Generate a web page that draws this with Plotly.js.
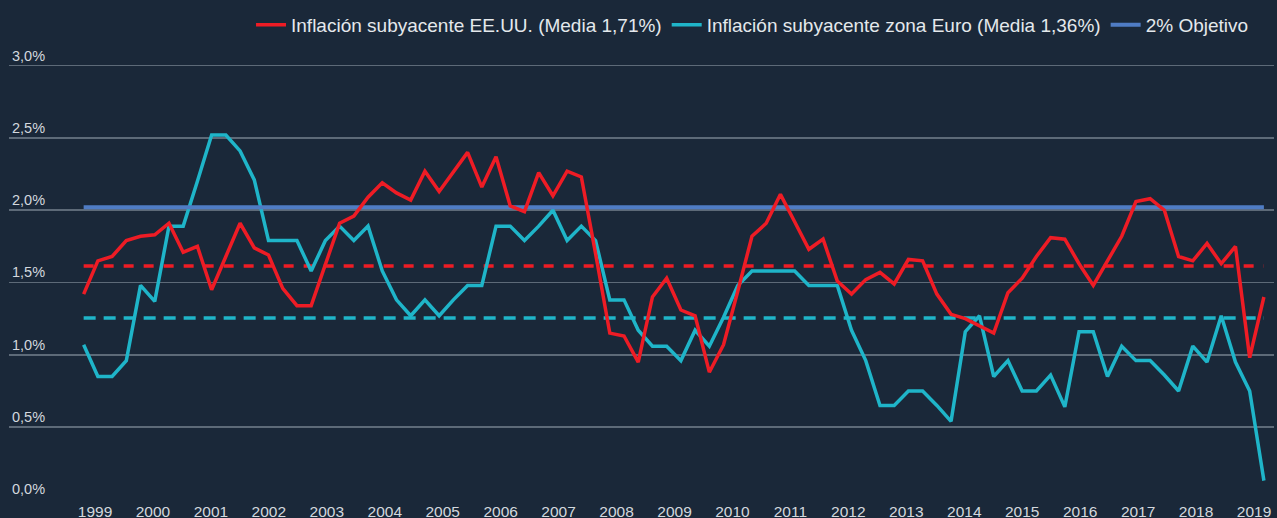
<!DOCTYPE html>
<html>
<head>
<meta charset="utf-8">
<script src="https://cdn.plot.ly/plotly-3.0.1.min.js"></script>
<style>
html,body{margin:0;padding:0;background:#1a2839;}
#chart{width:1277px;height:518px;}
</style>
</head>
<body>
<div id="chart"></div>
<script>
// Year tick labels
const years = ['1999','2000','2001','2002','2003','2004','2005','2006','2007','2008','2009',
               '2010','2011','2012','2013','2014','2015','2016','2017','2018','2019'];

const usCore = [
  1.42, 1.65, 1.68, 1.79, 1.82, 1.83, 1.91, 1.71, 1.75, 1.45,
  1.68, 1.91, 1.74, 1.69, 1.46, 1.34, 1.34, 1.63, 1.91, 1.96,
  2.09, 2.19, 2.12, 2.07, 2.27, 2.13, 2.27, 2.40, 2.16, 2.37,
  2.03, 1.99, 2.26, 2.10, 2.27, 2.23, 1.70, 1.15, 1.13, 0.95,
  1.40, 1.53, 1.31, 1.27, 0.88, 1.07, 1.44, 1.82, 1.91, 2.11,
  1.92, 1.73, 1.80, 1.51, 1.42, 1.52, 1.57, 1.49, 1.66, 1.65,
  1.42, 1.28, 1.25, 1.20, 1.15, 1.43, 1.53, 1.68, 1.81, 1.80,
  1.63, 1.48, 1.65, 1.82, 2.06, 2.08, 2.00, 1.68, 1.65, 1.77,
  1.63, 1.75, 0.98, 1.40
];

// Core inflation, Euro area (%)
const euroCore = [
  1.07, 0.85, 0.85, 0.96, 1.48, 1.37, 1.89, 1.89, 2.20, 2.52,
  2.52, 2.41, 2.21, 1.79, 1.79, 1.79, 1.58, 1.79, 1.89, 1.79,
  1.89, 1.58, 1.38, 1.27, 1.38, 1.27, 1.38, 1.48, 1.48, 1.89,
  1.89, 1.79, 1.89, 2.00, 1.79, 1.89, 1.79, 1.38, 1.38, 1.17,
  1.06, 1.06, 0.96, 1.17, 1.06, 1.26, 1.48, 1.58, 1.58, 1.58,
  1.58, 1.48, 1.48, 1.48, 1.17, 0.96, 0.65, 0.65, 0.75, 0.75,
  0.65, 0.54, 1.16, 1.27, 0.85, 0.96, 0.75, 0.75, 0.86, 0.64,
  1.16, 1.16, 0.85, 1.06, 0.96, 0.96, 0.86, 0.75, 1.06, 0.95,
  1.27, 0.95, 0.75, 0.13
];

// Reference levels as drawn (%)
const usMeanLevel = [1.615];
const euroMeanLevel = [1.255];
const targetLevel = [2.02];

const seriesNames = [
  'Inflación subyacente EE.UU. (Media 1,71%)',
  'Inflación subyacente zona Euro (Media 1,36%)',
  '2% Objetivo'
];

// Observation index (category positions)
const periods = usCore.map((_, i) => i);
const spanX = [periods[0], periods[periods.length - 1]];

const RED = '#ee1c25';
const TEAL = '#1fb5c9';
const BLUE = '#4f7cc4';
const FONT = 'Liberation Sans, Arial, sans-serif';

const traces = [
  {x: spanX, y: [euroMeanLevel[0], euroMeanLevel[0]], mode: 'lines', showlegend: false, hoverinfo: 'skip',
   line: {color: TEAL, width: 3.5, dash: '12px,8px'}},
  {x: spanX, y: [usMeanLevel[0], usMeanLevel[0]], mode: 'lines', showlegend: false, hoverinfo: 'skip',
   line: {color: RED, width: 3.5, dash: '10px,10px'}},
  {x: periods, y: euroCore, mode: 'lines', name: seriesNames[1], legendrank: 2,
   line: {color: TEAL, width: 3.5}},
  {x: spanX, y: [targetLevel[0], targetLevel[0]], mode: 'lines', name: seriesNames[2], legendrank: 3,
   line: {color: BLUE, width: 4}},
  {x: periods, y: usCore, mode: 'lines', name: seriesNames[0], legendrank: 1,
   line: {color: RED, width: 3.5}},
  {x: years.map(Number), y: years.map(() => null), xaxis: 'x2', mode: 'lines',
   showlegend: false, hoverinfo: 'skip'}
];

const layout = {
  width: 1277, height: 518,
  paper_bgcolor: '#1a2839', plot_bgcolor: '#1a2839',
  margin: {l: 9, r: 3, t: 36, b: 18},
  separators: ',.',
  font: {family: FONT, color: '#d3d8de'},
  showlegend: true,
  legend: {
    orientation: 'h', x: 0.9842, xanchor: 'right', y: 1.024, yanchor: 'middle',
    font: {family: FONT, size: 19, color: '#e4e8ec'},
    bgcolor: 'rgba(0,0,0,0)', traceorder: 'normal'
  },
  xaxis: {
    range: [-5.25, 83.71], showgrid: false, zeroline: false, showticklabels: false,
    ticks: '', showline: false, fixedrange: true
  },
  xaxis2: {
    overlaying: 'x', anchor: 'y', side: 'bottom',
    range: [1997.516, 2019.345],
    tickmode: 'array', tickvals: years.map(Number), ticktext: years,
    showgrid: false, zeroline: false, ticks: '', showline: false,
    tickfont: {family: FONT, size: 15.5, color: '#d3d8de'}
  },
  yaxis: {
    range: [-0.004, 3.205], tickmode: 'linear', tick0: 0, dtick: 0.5,
    tickformat: '.1f', ticksuffix: '%',
    ticklabelposition: 'inside top', ticklabeloverflow: 'allow',
    showgrid: true, gridcolor: '#5d6a78', gridwidth: 1.5,
    zeroline: false, showline: false, ticks: '',
    tickfont: {family: FONT, size: 14.5, color: '#d3d8de'}
  }
};

Plotly.newPlot('chart', traces, layout, {displayModeBar: false, staticPlot: true});
</script>
</body>
</html>
